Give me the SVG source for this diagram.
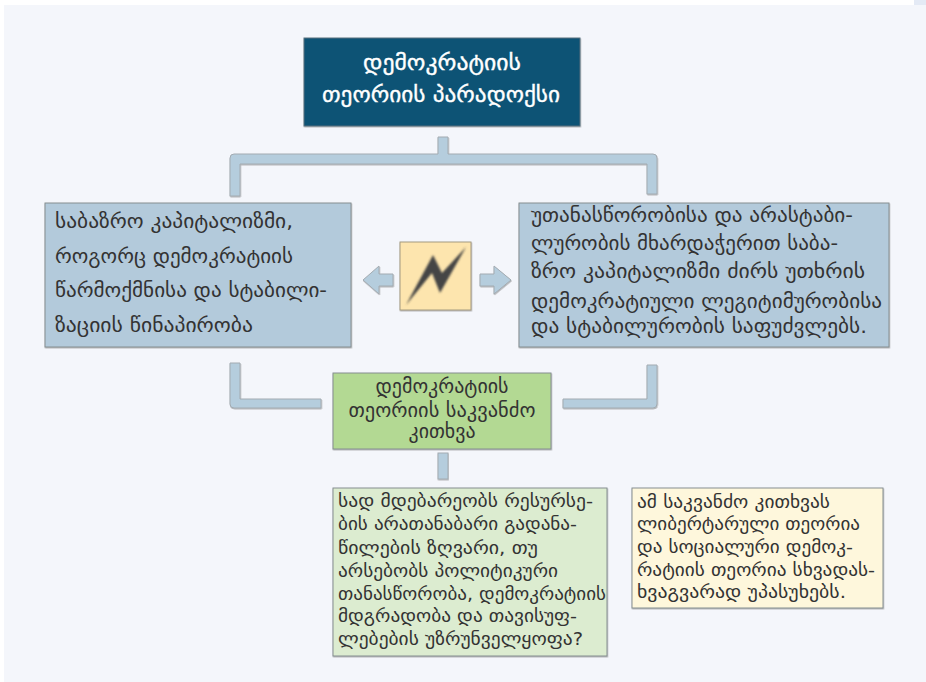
<svg xmlns="http://www.w3.org/2000/svg" width="926" height="682" viewBox="0 0 926 682">
<defs>
<filter id="sh" x="-5%" y="-5%" width="110%" height="110%"><feDropShadow dx="0.5" dy="1" stdDeviation="0.7" flood-color="#555" flood-opacity="0.4"/></filter>
<filter id="soft" x="-10%" y="-10%" width="120%" height="120%"><feGaussianBlur stdDeviation="0.9"/></filter>
</defs>
<style>
text{font-family:"DejaVu Sans","Noto Sans",sans-serif;fill:#333;font-size:19px}
.box{stroke:#858e90;stroke-width:1;filter:url(#sh)}
.conn{fill:#b5cddd;stroke:#a3abb1;stroke-width:1;filter:url(#sh)}
.t15{font-size:18px}
.c{text-anchor:middle}
.title{font-size:22px;fill:#fff;stroke:#fff;stroke-width:.35px}
</style>
<rect width="926" height="682" fill="#ffffff"/>
<rect x="4" y="5" width="922" height="677" fill="#f4f6fb"/>
<rect x="914" y="0" width="12" height="5" fill="#e4eaf5"/>
<g id="connectors">
<path class="conn" d="M438 137H448V154H653Q657 154 657 158V194H647V164H240V196H230V158Q230 154 234 154H438Z"/>
<path class="conn" d="M230 363H240V399H321V408H234Q230 408 230 404Z"/>
<path class="conn" d="M647 365H657V404Q657 408 653 408H563V399H647Z"/>
<rect class="conn" x="438" y="453" width="10" height="26"/>
<path class="conn" d="M363 280L379 266V274H393V286H379V294Z"/>
<path class="conn" d="M511 280L494 266V274H480V286H494V294Z"/>
</g>
<g id="node-title">
<rect x="304" y="38" width="276" height="88" fill="#105374" stroke="#56707f" filter="url(#sh)"/>
<text class="c title" x="442" y="70" textLength="158" lengthAdjust="spacingAndGlyphs">დემოკრატიის</text>
<text class="c title" x="441" y="102" textLength="238" lengthAdjust="spacingAndGlyphs">თეორიის პარადოქსი</text>
</g>
<g id="node-left">
<rect class="box" x="45" y="203" width="306" height="144" fill="#b3cadb"/>
<text x="55" y="228" textLength="238" lengthAdjust="spacingAndGlyphs">საბაზრო კაპიტალიზმი,</text>
<text x="55" y="263" textLength="238" lengthAdjust="spacingAndGlyphs">როგორც დემოკრატიის</text>
<text x="55" y="297" textLength="272" lengthAdjust="spacingAndGlyphs">წარმოქმნისა და სტაბილი-</text>
<text x="55" y="332" textLength="198" lengthAdjust="spacingAndGlyphs">ზაციის წინაპირობა</text>
</g>
<g id="node-right">
<rect class="box" x="519" y="203" width="370" height="144" fill="#b3cadb"/>
<text x="531" y="222" textLength="322" lengthAdjust="spacingAndGlyphs">უთანასწორობისა და არასტაბი-</text>
<text x="531" y="250" textLength="307" lengthAdjust="spacingAndGlyphs">ლურობის მხარდაჭერით საბა-</text>
<text x="531" y="278" textLength="334" lengthAdjust="spacingAndGlyphs">ზრო კაპიტალიზმი ძირს უთხრის</text>
<text x="531" y="308" textLength="351" lengthAdjust="spacingAndGlyphs">დემოკრატიული ლეგიტიმურობისა</text>
<text x="531" y="333" textLength="336" lengthAdjust="spacingAndGlyphs">და სტაბილურობის საფუძვლებს.</text>
</g>
<g id="node-bolt">
<rect x="400" y="242" width="71" height="68" fill="#fde5ae" stroke="#a39a80" filter="url(#sh)"/>
<path d="M406 305L433 255L442 273L466 247L440 293L432 273Z" fill="#444" filter="url(#soft)"/>
</g>
<g id="node-question">
<rect class="box" x="333" y="373" width="218" height="76" fill="#b3d993"/>
<text class="c" x="442" y="393" textLength="133" lengthAdjust="spacingAndGlyphs">დემოკრატიის</text>
<text class="c" x="442" y="417" textLength="187" lengthAdjust="spacingAndGlyphs">თეორიის საკვანძო</text>
<text class="c" x="442" y="438" textLength="67" lengthAdjust="spacingAndGlyphs">კითხვა</text>
</g>
<g id="node-answer-green">
<rect class="box" x="333" y="488" width="274" height="168" fill="#dcecd0"/>
<text class="t15" x="338" y="507" textLength="255" lengthAdjust="spacingAndGlyphs">სად მდებარეობს რესურსე-</text>
<text class="t15" x="338" y="530" textLength="239" lengthAdjust="spacingAndGlyphs">ბის არათანაბარი გადანა-</text>
<text class="t15" x="338" y="554" textLength="200" lengthAdjust="spacingAndGlyphs">წილების ზღვარი, თუ</text>
<text class="t15" x="338" y="577" textLength="220" lengthAdjust="spacingAndGlyphs">არსებობს პოლიტიკური</text>
<text class="t15" x="338" y="600" textLength="268" lengthAdjust="spacingAndGlyphs">თანასწორობა, დემოკრატიის</text>
<text class="t15" x="338" y="622" textLength="239" lengthAdjust="spacingAndGlyphs">მდგრადობა და თავისუფ-</text>
<text class="t15" x="338" y="645" textLength="245" lengthAdjust="spacingAndGlyphs">ლებების უზრუნველყოფა?</text>
</g>
<g id="node-answer-yellow">
<rect class="box" x="632" y="488" width="251" height="120" fill="#fef7dc"/>
<text class="t15" x="637" y="508" textLength="193" lengthAdjust="spacingAndGlyphs">ამ საკვანძო კითხვას</text>
<text class="t15" x="637" y="530" textLength="223" lengthAdjust="spacingAndGlyphs">ლიბერტარული თეორია</text>
<text class="t15" x="637" y="553" textLength="216" lengthAdjust="spacingAndGlyphs">და სოციალური დემოკ-</text>
<text class="t15" x="637" y="576" textLength="238" lengthAdjust="spacingAndGlyphs">რატიის თეორია სხვადას-</text>
<text class="t15" x="637" y="598" textLength="209" lengthAdjust="spacingAndGlyphs">ხვაგვარად უპასუხებს.</text>
</g>
</svg>
